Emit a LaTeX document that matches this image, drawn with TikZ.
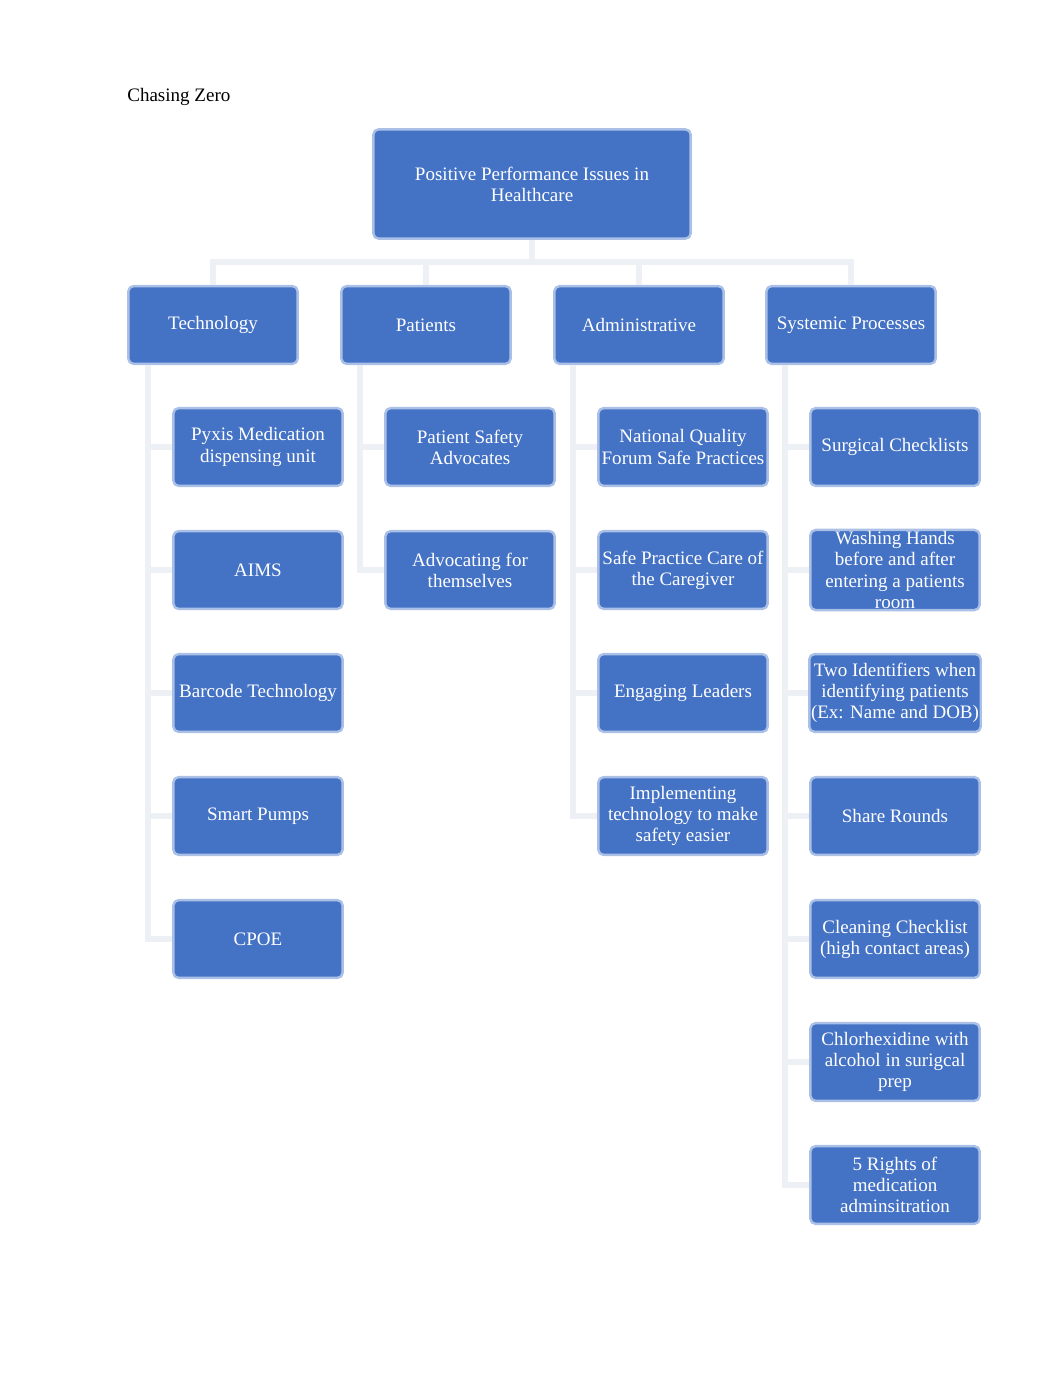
\documentclass[tikz,border=0pt]{standalone}
\usepackage{fontspec}
\setmainfont{Liberation Serif}
\usepackage{tikz}
\definecolor{boxblue}{RGB}{68,114,196}
\definecolor{boxglow}{RGB}{170,192,230}
\definecolor{linkcol}{RGB}{237,240,245}
\tikzset{
  capt/.style={font=\fontsize{11}{13}\selectfont,anchor=west,inner sep=0pt},
  topbox/.style={rectangle,fill=boxblue,draw=boxglow,line width=1.4pt,rounded corners=3pt,text=white,
    align=center,minimum width=6.45cm,minimum height=2.22cm,font=\fontsize{11}{12.2}\selectfont},
  catbox/.style={rectangle,fill=boxblue,draw=boxglow,line width=1.4pt,rounded corners=3pt,text=white,
    align=center,minimum width=3.44cm,minimum height=1.58cm,inner sep=1pt,font=\fontsize{11}{12.2}\selectfont},
  itembox/.style={catbox},
  link/.style={draw=linkcol,line width=1.3mm},
}
\begin{document}
\begin{tikzpicture}[x=0.02033cm,y=-0.02033cm]
  \useasboundingbox[fill=white] (0,0) rectangle (1062,1377);
  \node[capt] (title) at (127,97) {Chasing Zero};
  % bus points of the tree
  \coordinate (bus) at (532,262);
  \coordinate (techbus) at (148,365);
  \coordinate (patbus) at (360,365);
  \coordinate (admbus) at (573,365);
  \coordinate (sysbus) at (785,365);
  % boxes
  \node[topbox] (root) at (532,184) {Positive Performance Issues in\\Healthcare};
  \node[catbox] (tech) at (213,325) {Technology};
  \node[catbox] (pat) at (426,325) {Patients};
  \node[catbox] (adm) at (639,325) {Administrative};
  \node[catbox] (sys) at (851,325) {Systemic Processes};
  \node[itembox] (pyxis) at (258,447) {Pyxis Medication\\dispensing unit};
  \node[itembox] (aims) at (258,570) {AIMS};
  \node[itembox] (barcode) at (258,693) {Barcode Technology};
  \node[itembox] (pumps) at (258,816) {Smart Pumps};
  \node[itembox] (cpoe) at (258,939) {CPOE};
  \node[itembox] (advoc) at (470,447) {Patient Safety\\Advocates};
  \node[itembox] (self) at (470,570) {Advocating for\\themselves};
  \node[itembox] (nqf) at (683,447) {National Quality\\Forum Safe Practices};
  \node[itembox] (carer) at (683,570) {Safe Practice Care of\\the Caregiver};
  \node[itembox] (leaders) at (683,693) {Engaging Leaders};
  \node[itembox] (techsafe) at (683,816) {Implementing\\technology to make\\safety easier};
  \node[itembox] (surgical) at (895,447) {Surgical Checklists};
  \node[itembox] (hands) at (895,570) {Washing Hands\\before and after\\entering a patients\\room};
  \node[itembox] (ident) at (895,693) {Two Identifiers when\\identifying patients\\(Ex: Name and DOB)};
  \node[itembox] (rounds) at (895,816) {Share Rounds};
  \node[itembox] (clean) at (895,939) {Cleaning Checklist\\(high contact areas)};
  \node[itembox] (chlor) at (895,1062) {Chlorhexidine with\\alcohol in surigcal\\prep};
  \node[itembox] (rights) at (895,1185) {5 Rights of\\medication\\adminsitration};
  % links
  \foreach \c in {tech,pat,adm,sys}
    \draw[link] (root.south) -- (bus) -| (\c.north);
  \foreach \i in {pyxis,aims,barcode,pumps,cpoe}
    \draw[link] (techbus) |- (\i.west);
  \foreach \i in {advoc,self}
    \draw[link] (patbus) |- (\i.west);
  \foreach \i in {nqf,carer,leaders,techsafe}
    \draw[link] (admbus) |- (\i.west);
  \foreach \i in {surgical,hands,ident,rounds,clean,chlor,rights}
    \draw[link] (sysbus) |- (\i.west);
\end{tikzpicture}
\end{document}
